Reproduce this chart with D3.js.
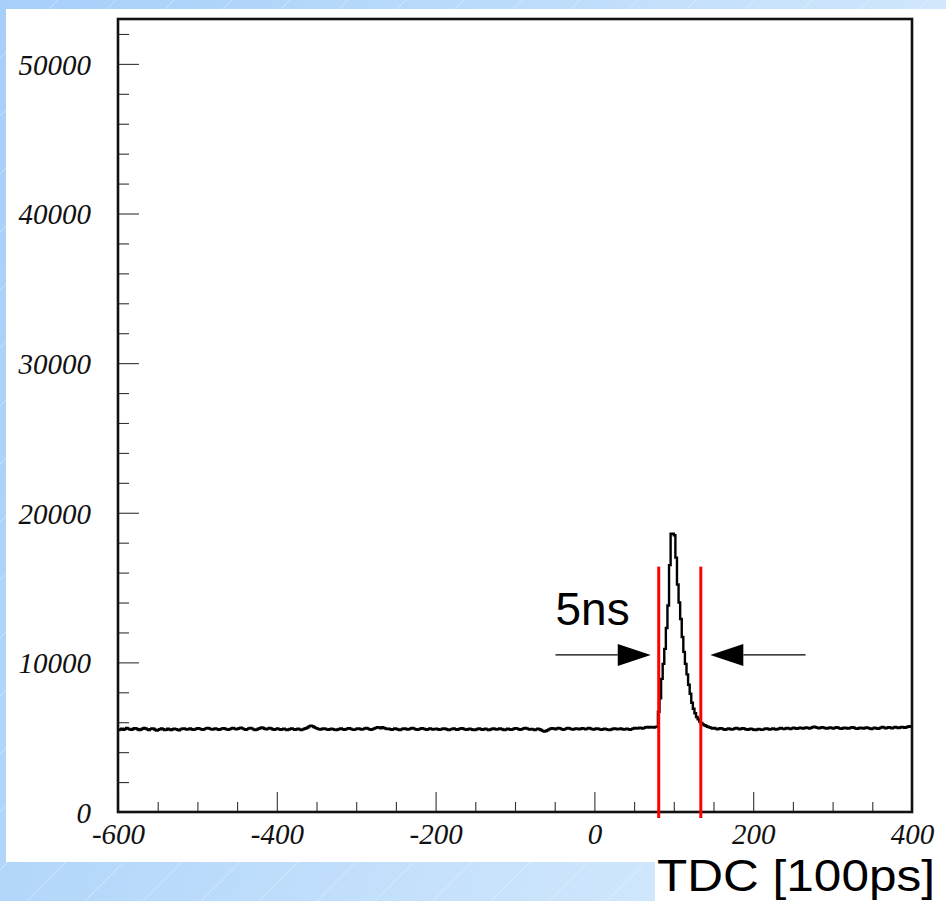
<!DOCTYPE html>
<html>
<head>
<meta charset="utf-8">
<script src="https://cdn.jsdelivr.net/npm/d3@7/dist/d3.min.js"></script>
<style>
  html, body { margin: 0; padding: 0; }
  body { width: 946px; height: 901px; overflow: hidden; }
</style>
</head>
<body>
<svg id="chart" width="946" height="901"></svg>
<script>
// TDC spectrum: counts per 2-unit bin from -600 to 400
const binLow = -600;
const binWidth = 2;

// -600 .. 76
const countsLeft = [
  5480,5520,5560,5500,5540,5610,5570,5520,5490,5550,5600,5580,5530,5470,5510,5560,5620,5580,5520,5480,
  5540,5590,5560,5500,5450,5490,5540,5580,5530,5470,5500,5560,5520,5480,5530,5570,5540,5500,5460,5520,
  5560,5590,5550,5510,5540,5580,5530,5490,5520,5560,5600,5570,5530,5500,5540,5590,5620,5580,5540,5510,
  5550,5580,5540,5500,5530,5570,5600,5560,5520,5490,5540,5580,5610,5570,5530,5560,5600,5640,5590,5540,
  5500,5540,5590,5620,5570,5520,5480,5510,5560,5600,5650,5610,5560,5520,5570,5620,5580,5530,5500,5540,
  5580,5540,5490,5530,5570,5520,5480,5510,5550,5590,5540,5500,5530,5570,5520,5480,5520,5560,5600,5650,
  5720,5770,5740,5680,5620,5580,5540,5510,5550,5590,5560,5520,5490,5530,5570,5540,5500,5470,5510,5550,
  5580,5540,5500,5530,5570,5600,5560,5520,5490,5520,5560,5590,5550,5510,5540,5580,5610,5570,5530,5500,
  5540,5580,5620,5660,5640,5600,5660,5620,5580,5540,5570,5530,5500,5540,5580,5550,5510,5480,5520,5560,
  5590,5550,5510,5540,5580,5610,5570,5530,5490,5520,5560,5600,5570,5530,5500,5540,5580,5550,5510,5540,
  5570,5530,5490,5520,5560,5590,5550,5510,5480,5520,5550,5580,5540,5500,5530,5570,5600,5560,5520,5490,
  5530,5570,5540,5500,5470,5510,5550,5580,5540,5500,5530,5560,5520,5480,5510,5550,5590,5550,5510,5540,
  5580,5550,5510,5480,5520,5560,5530,5490,5520,5560,5600,5570,5530,5500,5540,5580,5620,5580,5540,5510,
  5550,5520,5480,5520,5560,5530,5480,5420,5380,5410,5460,5520,5560,5600,5570,5530,5580,5620,5580,5540,
  5500,5540,5580,5620,5580,5540,5510,5550,5590,5560,5520,5560,5600,5570,5530,5570,5610,5580,5540,5510,
  5550,5590,5560,5520,5490,5530,5570,5540,5500,5470,5510,5550,5590,5560,5520,5540,5580,5550,5510,5530,
  5570,5540,5500,5540,5580,5610,5570,5600,5640,5610,5580,5620,5660,5680,5650,5690,5660,5650
];

// 76 .. 144: the coincidence peak
const countsPeak = [
  5680,5700,6700,7600,8900,9900,10900,12300,13800,16500,18600,18600,18500,17000,15200,14000,12900,
  11700,10700,9900,9200,8500,7900,7300,6900,6600,6350,6200,6050,5950,5850,5800,5750,5700
];

// 144 .. 400
const countsRight = [
  5660,5620,5580,5610,5570,5530,5560,5600,5570,5530,5500,5540,5580,5550,5510,5540,5580,5610,5570,5530,
  5560,5600,5570,5530,5500,5530,5570,5540,5500,5470,5510,5550,5520,5490,5520,5560,5590,5550,5510,5540,
  5580,5550,5510,5540,5580,5610,5570,5540,5580,5620,5590,5550,5590,5630,5600,5560,5600,5640,5610,5570,
  5610,5650,5620,5580,5620,5660,5700,5660,5620,5590,5630,5670,5640,5600,5570,5610,5650,5620,5580,5620,
  5660,5630,5590,5560,5600,5640,5610,5570,5600,5640,5670,5630,5590,5560,5600,5640,5610,5570,5610,5650,
  5620,5580,5550,5590,5630,5600,5560,5600,5640,5680,5640,5600,5630,5670,5640,5600,5640,5680,5650,5610,
  5650,5690,5660,5620,5660,5700,5740,5700
];

const counts = countsLeft.concat(countsPeak, countsRight);

// window marks (TDC units) and label
const windowEdges = [81, 134];
const windowLabel = "5ns";
const xTitle = "TDC [100ps]";

const xMajorTicks = [-600, -400, -200, 0, 200, 400];
const yMajorTicks = [0, 10000, 20000, 30000, 40000, 50000];

// ---- layout
const W = 946, H = 901;
const plot = { left: 118, top: 19, right: 912, bottom: 812 };

const x = d3.scaleLinear().domain([-600, 400]).range([plot.left, plot.right]);
const y = d3.scaleLinear().domain([0, 53000]).range([plot.bottom, plot.top]);

const svg = d3.select("#chart");
const defs = svg.append("defs");

// slide background: soft blue gradient with faint diagonal streaks
const grad = defs.append("linearGradient").attr("id", "bg")
  .attr("x1", "0").attr("y1", "0").attr("x2", "1").attr("y2", "0.3");
grad.append("stop").attr("offset", "0").attr("stop-color", "#a7cffa");
grad.append("stop").attr("offset", "0.5").attr("stop-color", "#bcdcfb");
grad.append("stop").attr("offset", "1").attr("stop-color", "#d4e9fc");

const pat = defs.append("pattern").attr("id", "streaks")
  .attr("width", 58).attr("height", 58)
  .attr("patternUnits", "userSpaceOnUse");
pat.append("line").attr("x1", 0).attr("y1", 58).attr("x2", 58).attr("y2", 0)
  .attr("stroke", "rgba(255,255,255,0.35)").attr("stroke-width", 1);

svg.append("rect").attr("width", W).attr("height", H).attr("fill", "url(#bg)");
svg.append("rect").attr("width", W).attr("height", H).attr("fill", "url(#streaks)");

// white panels
svg.append("rect").attr("x", 6).attr("y", 9).attr("width", W - 6).attr("height", 853).attr("fill", "#fff");
svg.append("rect").attr("x", 655).attr("y", 860).attr("width", W - 655).attr("height", H - 860).attr("fill", "#fff");

const tickFont = "'Liberation Serif', 'Times New Roman', serif";
const plainInt = d => String(d);   // keep ASCII hyphen for negatives

// y axis: major + minor ticks drawn inward
const yMinor = d3.range(0, 53000, 2000).filter(v => v % 10000 !== 0);
const yAxisMinor = d3.axisLeft(y).tickValues(yMinor).tickSize(-11).tickFormat("");
const yAxisMajor = d3.axisLeft(y).tickValues(yMajorTicks).tickSize(-21).tickPadding(27)
  .tickFormat(plainInt);

const gyMinor = svg.append("g").attr("transform", `translate(${plot.left},0)`).call(yAxisMinor);
const gyMajor = svg.append("g").attr("transform", `translate(${plot.left},0)`).call(yAxisMajor);

// x axis
const xMinor = d3.range(-600, 401, 50).filter(v => v % 200 !== 0);
const xAxisMinor = d3.axisBottom(x).tickValues(xMinor).tickSize(-10).tickFormat("");
const xAxisMajor = d3.axisBottom(x).tickValues(xMajorTicks).tickSize(-20).tickPadding(12)
  .tickFormat(plainInt);

const gxMinor = svg.append("g").attr("transform", `translate(0,${plot.bottom})`).call(xAxisMinor);
const gxMajor = svg.append("g").attr("transform", `translate(0,${plot.bottom})`).call(xAxisMajor);

[gyMinor, gyMajor, gxMinor, gxMajor].forEach(g => {
  g.select(".domain").remove();
  g.selectAll(".tick line").attr("stroke", "#333").attr("stroke-width", 1.1);
  g.selectAll(".tick text")
    .attr("fill", "#111")
    .style("font-family", tickFont)
    .style("font-style", "italic")
    .style("font-size", "29px");
});
gyMajor.selectAll(".tick text").attr("dy", "0.36em");
gxMajor.selectAll(".tick text").attr("dy", "0.68em");

// histogram as a step line
const pts = counts.map((c, i) => [binLow + i * binWidth, c]);
pts.push([binLow + counts.length * binWidth, counts[counts.length - 1]]);
const step = d3.line().x(d => x(d[0])).y(d => y(d[1])).curve(d3.curveStepAfter);

svg.append("path")
  .attr("d", step(pts))
  .attr("fill", "none")
  .attr("stroke", "#000")
  .attr("stroke-width", 2.4)
  .attr("stroke-linejoin", "miter");

// frame
svg.append("rect")
  .attr("x", plot.left).attr("y", plot.top)
  .attr("width", plot.right - plot.left).attr("height", plot.bottom - plot.top)
  .attr("fill", "none").attr("stroke", "#111").attr("stroke-width", 2.6);

// red window lines
svg.selectAll("line.win").data(windowEdges).join("line")
  .attr("class", "win")
  .attr("x1", d => x(d)).attr("x2", d => x(d))
  .attr("y1", y(16400)).attr("y2", plot.bottom + 6)
  .attr("stroke", "#f00").attr("stroke-width", 3);

// arrows pointing at the window
const arrowY = y(10500);
function arrow(fromX, tipX) {
  const dir = Math.sign(tipX - fromX);
  const headLen = 33, headHalf = 11;
  svg.append("line")
    .attr("x1", fromX).attr("y1", arrowY)
    .attr("x2", tipX - dir * headLen).attr("y2", arrowY)
    .attr("stroke", "#000").attr("stroke-width", 1.2);
  svg.append("path")
    .attr("d", `M${tipX},${arrowY} L${tipX - dir * headLen},${arrowY - headHalf} L${tipX - dir * headLen},${arrowY + headHalf} Z`)
    .attr("fill", "#000");
}
arrow(x(-49), x(71));
arrow(x(266), x(146));

svg.append("text")
  .attr("x", x(-49)).attr("y", y(12500))
  .attr("font-family", "'Liberation Sans', Arial, sans-serif")
  .attr("font-size", 46)
  .attr("fill", "#000")
  .text(windowLabel);

// axis title
svg.append("text")
  .attr("x", 657).attr("y", 891)
  .attr("font-family", "'Liberation Sans', Arial, sans-serif")
  .attr("font-size", 45)
  .attr("textLength", 278)
  .attr("lengthAdjust", "spacingAndGlyphs")
  .attr("fill", "#000")
  .text(xTitle);
</script>
</body>
</html>
